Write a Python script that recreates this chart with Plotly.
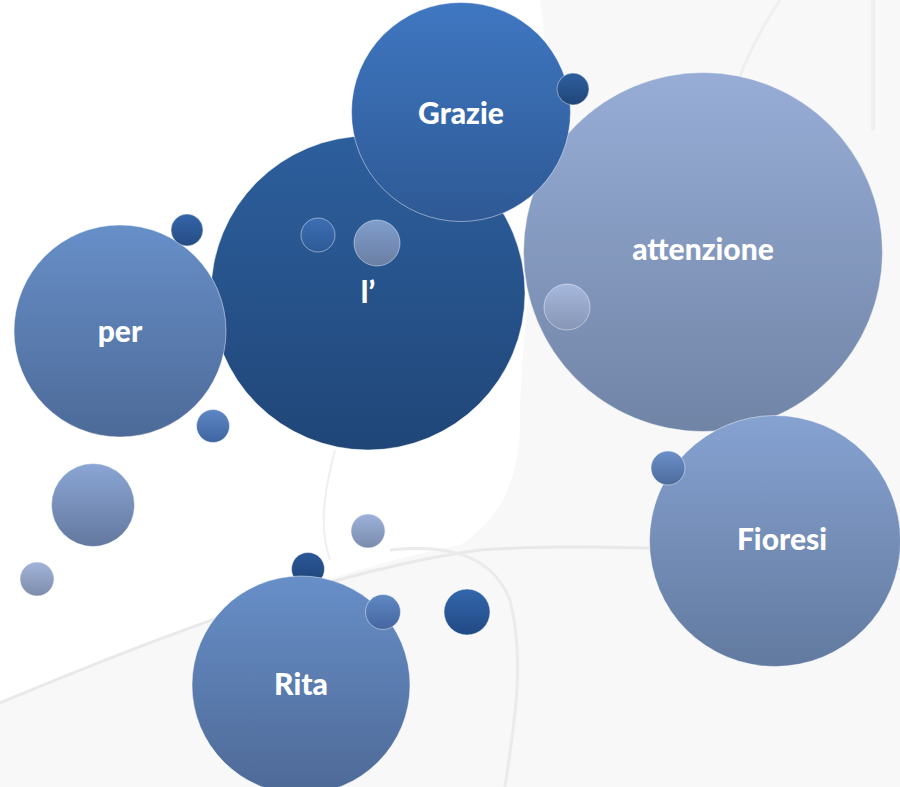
import plotly.graph_objects as go

# Bubble data (pixel-space coordinates of the slide, y grows downward)
bubble_x = [308, 368, 703, 461, 573, 120, 187, 318, 377, 567, 213, 775, 668, 301, 383, 93, 37, 368, 467]
bubble_y = [569, 293, 252, 112, 89, 331, 230, 235, 243, 307, 426, 541, 468, 685, 612, 505, 579, 531, 612]
bubble_d = [33, 314, 359, 219, 32, 212, 32, 34, 46, 46, 33, 251, 34, 218, 35, 83, 34, 34, 46]
top_colors = ["#2b5898", "#2d5f9d", "#98add6", "#3f77c1", "#2f5f9f", "#678fc8", "#3565a8",
              "#3d6fb5", "#809dcc", "#a6b8dd", "#5d88c5", "#86a2d1", "#6b8fc8", "#678fc8",
              "#5f88c3", "#8ba6d5", "#a2b5da", "#9db2da", "#3366ab"]
bottom_colors = ["#1e4478", "#204678", "#7084a6", "#2e5995", "#1f4577", "#4d6a98", "#244c84",
                 "#2d5a96", "#6a7fa3", "#8796b5", "#3f65a0", "#627a9f", "#4c6b9c", "#4e6996",
                 "#4566a0", "#63789e", "#7d8caa", "#7a8cad", "#214a84"]

labels = ["Grazie", "l\u2019", "per", "attenzione", "Fioresi", "Rita"]
label_x = [461, 368, 120, 703, 782, 301]
label_y = [116, 295, 334, 252, 542, 687]

fig = go.Figure()

fig.add_trace(go.Scatter(
    x=bubble_x, y=bubble_y, mode="markers", hoverinfo="skip",
    marker=dict(size=bubble_d, sizemode="diameter", sizeref=1, color=top_colors,
                opacity=1,
                gradient=dict(type="vertical", color=bottom_colors),
                line=dict(width=1, color="rgba(255,255,255,0.45)")),
    showlegend=False))

fig.add_trace(go.Scatter(
    x=label_x, y=label_y, mode="text", text=labels, hoverinfo="skip",
    textposition="middle center",
    textfont=dict(family="Lato", size=30, color="white", weight=900),
    showlegend=False))

# faint decorative background
shapes = [
    dict(type="path", layer="below", xref="x", yref="y",
         path="M 0 705 C 150 640, 330 570, 460 545 C 500 520, 520 480, 520 420 C 520 300, 560 120, 540 0 L 900 0 L 900 787 L 0 787 Z",
         fillcolor="#f8f8f8", line=dict(width=0)),
    dict(type="path", layer="below", xref="x", yref="y",
         path="M 0 703 C 150 640, 330 570, 480 550 C 620 540, 900 560, 900 570",
         line=dict(color="#e9e9e9", width=3)),
    dict(type="path", layer="below", xref="x", yref="y",
         path="M 335 450 C 322 500, 320 530, 330 560",
         line=dict(color="#efefef", width=2)),
    dict(type="path", layer="below", xref="x", yref="y",
         path="M 390 550 C 440 545, 490 550, 510 600 C 525 660, 515 720, 505 787",
         line=dict(color="#ebebeb", width=3)),
    dict(type="path", layer="below", xref="x", yref="y",
         path="M 873 0 L 873 130",
         line=dict(color="#efefef", width=4)),
    dict(type="path", layer="below", xref="x", yref="y",
         path="M 780 0 C 760 30, 745 60, 735 90",
         line=dict(color="#efefef", width=3)),
]

fig.update_layout(
    width=900, height=787,
    margin=dict(l=0, r=0, t=0, b=0),
    paper_bgcolor="white", plot_bgcolor="rgba(0,0,0,0)",
    xaxis=dict(range=[0, 900], visible=False, fixedrange=True),
    yaxis=dict(range=[787, 0], visible=False, fixedrange=True),
    shapes=shapes,
)

fig.write_html("out.html", config={"displayModeBar": False},
               post_script="document.body.style.margin='0';")
